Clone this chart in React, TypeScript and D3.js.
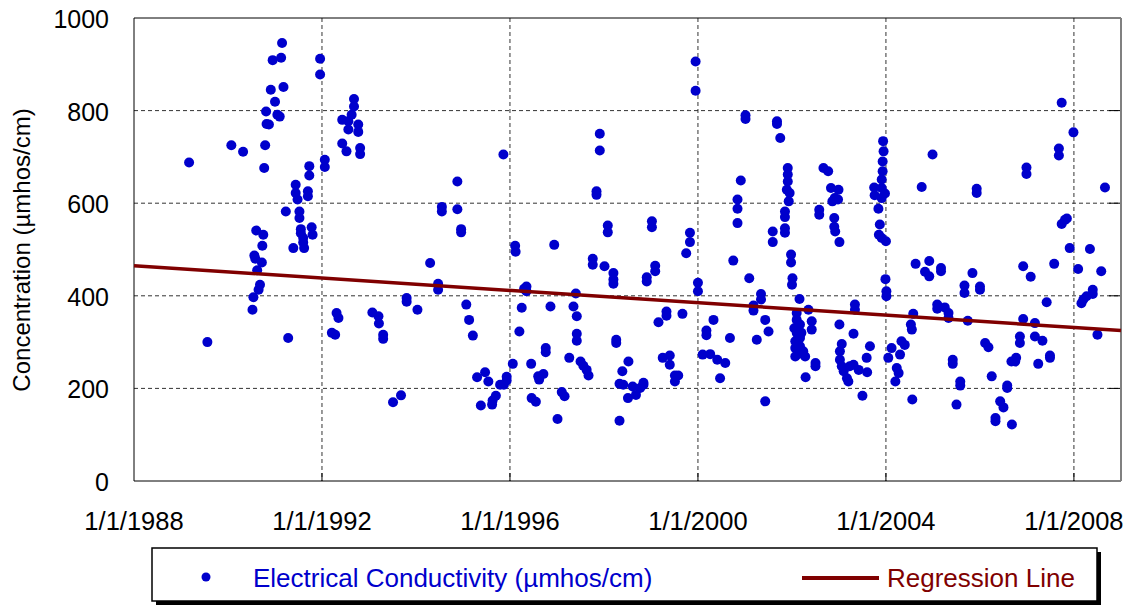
import React from "react";
import * as d3 from "d3";

// [decimal year, EC value (µmhos/cm)]
const ec1989to1992: [number, number][] = [
  [1989.17, 688], [1989.56, 300], [1990.07, 725], [1990.32, 711], [1990.52, 370], [1990.54, 397],
  [1990.56, 487], [1990.58, 480], [1990.60, 541], [1990.62, 455], [1990.65, 413], [1990.68, 424],
  [1990.72, 472], [1990.73, 508], [1990.75, 532], [1990.77, 676], [1990.79, 725], [1990.81, 798],
  [1990.82, 771], [1990.87, 770], [1990.91, 845], [1990.95, 909], [1991.0, 819], [1991.05, 791],
  [1991.1, 787], [1991.13, 914], [1991.15, 946], [1991.18, 851], [1991.23, 582], [1991.28, 309],
  [1991.39, 503], [1991.44, 640], [1991.44, 622], [1991.48, 608], [1991.52, 582], [1991.52, 568],
  [1991.55, 544], [1991.55, 535], [1991.6, 525], [1991.6, 515], [1991.62, 503], [1991.7, 626],
  [1991.7, 615], [1991.73, 680], [1991.73, 660], [1991.78, 548], [1991.8, 532], [1991.96, 912],
  [1991.96, 878], [1992.06, 694], [1992.06, 678],
];

const ec1992to1996: [number, number][] = [
  [1992.21, 320], [1992.28, 316], [1992.31, 363], [1992.35, 352], [1992.43, 780], [1992.43, 729],
  [1992.52, 712], [1992.56, 777], [1992.56, 759], [1992.63, 791], [1992.68, 825], [1992.68, 809],
  [1992.77, 770], [1992.77, 754], [1992.81, 719], [1992.81, 706], [1993.07, 364], [1993.2, 356],
  [1993.21, 340], [1993.3, 316], [1993.3, 307], [1993.51, 170], [1993.68, 185], [1993.8, 395],
  [1993.8, 387], [1994.03, 370], [1994.3, 471], [1994.47, 426], [1994.47, 413], [1994.55, 592],
  [1994.55, 582], [1994.88, 647], [1994.88, 587], [1994.96, 544], [1994.96, 537], [1995.07, 381],
  [1995.13, 348], [1995.21, 314], [1995.3, 224], [1995.38, 163], [1995.47, 235], [1995.54, 215],
  [1995.62, 165], [1995.63, 174], [1995.7, 184], [1995.79, 208], [1995.86, 705], [1995.87, 208],
  [1995.93, 225], [1995.93, 217],
];

const ec1996to2000: [number, number][] = [
  [1996.06, 253], [1996.11, 508], [1996.12, 495], [1996.2, 323], [1996.25, 374], [1996.3, 415],
  [1996.35, 420], [1996.35, 410], [1996.45, 253], [1996.46, 179], [1996.55, 171], [1996.6, 226],
  [1996.62, 219], [1996.71, 231], [1996.76, 287], [1996.76, 278], [1996.86, 377], [1996.94, 510],
  [1997.01, 134], [1997.1, 192], [1997.16, 183], [1997.26, 266], [1997.35, 377], [1997.4, 405],
  [1997.42, 356], [1997.42, 318], [1997.42, 303], [1997.5, 258], [1997.56, 249], [1997.63, 240],
  [1997.67, 228], [1997.76, 480], [1997.76, 467], [1997.84, 626], [1997.84, 618], [1997.91, 750],
  [1997.91, 714], [1998.01, 464], [1998.08, 552], [1998.08, 537], [1998.2, 449], [1998.2, 435],
  [1998.2, 426], [1998.26, 305], [1998.26, 298], [1998.33, 130], [1998.33, 210], [1998.39, 237],
  [1998.41, 208], [1998.51, 179], [1998.52, 258], [1998.61, 204], [1998.68, 186], [1998.77, 201],
  [1998.84, 208], [1998.84, 212], [1998.91, 440], [1998.91, 431], [1999.02, 561], [1999.02, 548],
  [1999.09, 465], [1999.09, 453], [1999.16, 343], [1999.25, 266], [1999.33, 366], [1999.33, 357],
  [1999.4, 271], [1999.4, 251], [1999.51, 228], [1999.51, 215], [1999.58, 228], [1999.67, 361],
  [1999.75, 492], [1999.83, 536], [1999.83, 516], [1999.95, 906], [1999.95, 843],
];

const ec2000to2004: [number, number][] = [
  [2000.0, 428], [2000.0, 410], [2000.1, 273], [2000.18, 325], [2000.18, 315], [2000.26, 274],
  [2000.33, 348], [2000.41, 262], [2000.47, 222], [2000.58, 255], [2000.68, 309], [2000.75, 476],
  [2000.84, 608], [2000.84, 588], [2000.84, 557], [2000.91, 649], [2001.01, 790], [2001.01, 782],
  [2001.09, 438], [2001.18, 379], [2001.18, 368], [2001.25, 305], [2001.34, 404], [2001.34, 392],
  [2001.43, 348], [2001.43, 172], [2001.5, 323], [2001.59, 539], [2001.59, 516], [2001.68, 777],
  [2001.68, 771], [2001.75, 741], [2001.85, 582], [2001.85, 570], [2001.85, 546], [2001.85, 536],
  [2001.89, 629], [2001.91, 676], [2001.91, 662], [2001.91, 647], [2001.93, 604], [2001.95, 622],
  [2001.98, 489], [2001.98, 472], [2002.0, 424], [2002.01, 438], [2002.05, 330], [2002.07, 302],
  [2002.07, 287], [2002.07, 269], [2002.1, 363], [2002.1, 348], [2002.1, 320], [2002.12, 300],
  [2002.12, 285], [2002.14, 275], [2002.16, 393], [2002.17, 338], [2002.17, 309], [2002.17, 291],
  [2002.2, 320], [2002.24, 280], [2002.28, 269], [2002.29, 224], [2002.35, 370], [2002.42, 345],
  [2002.42, 327], [2002.5, 255], [2002.5, 248], [2002.58, 586], [2002.58, 575], [2002.67, 676],
  [2002.77, 669], [2002.83, 633], [2002.86, 604], [2002.9, 568], [2002.9, 549], [2002.91, 611],
  [2002.92, 539], [2002.98, 608], [2002.99, 629], [2003.01, 516], [2003.01, 338], [2003.02, 280],
  [2003.02, 262], [2003.06, 296], [2003.06, 248], [2003.1, 237], [2003.17, 222], [2003.2, 215],
  [2003.23, 248], [2003.31, 251], [2003.31, 318], [2003.34, 381], [2003.34, 370], [2003.42, 240],
  [2003.5, 184], [2003.59, 266], [2003.6, 235], [2003.66, 291], [2003.75, 634], [2003.76, 617],
  [2003.84, 588], [2003.85, 532], [2003.87, 554], [2003.91, 651], [2003.91, 633], [2003.91, 611],
  [2003.91, 525], [2003.93, 690], [2003.93, 669], [2003.94, 734], [2003.95, 712], [2003.98, 621],
  [2004.0, 518], [2003.99, 436],
];

const ec2004to2009: [number, number][] = [
  [2004.01, 410], [2004.01, 399], [2004.05, 266], [2004.12, 287], [2004.2, 215], [2004.23, 244],
  [2004.27, 233], [2004.3, 273], [2004.33, 302], [2004.4, 294], [2004.53, 338], [2004.55, 327],
  [2004.56, 176], [2004.58, 361], [2004.63, 469], [2004.76, 635], [2004.83, 452], [2004.92, 475],
  [2004.92, 442], [2004.99, 705], [2005.09, 381], [2005.09, 372], [2005.17, 460], [2005.17, 453],
  [2005.25, 375], [2005.33, 363], [2005.33, 352], [2005.42, 262], [2005.42, 253], [2005.5, 165],
  [2005.58, 215], [2005.58, 206], [2005.67, 422], [2005.67, 406], [2005.74, 346], [2005.84, 449],
  [2005.93, 631], [2005.93, 622], [2006.0, 420], [2006.0, 413], [2006.11, 298], [2006.18, 289],
  [2006.25, 226], [2006.33, 136], [2006.33, 129], [2006.43, 172], [2006.5, 159], [2006.58, 206],
  [2006.58, 201], [2006.67, 258], [2006.68, 122], [2006.75, 258], [2006.77, 266], [2006.85, 312],
  [2006.85, 298], [2006.92, 464], [2006.92, 350], [2006.99, 677], [2006.99, 663], [2007.08, 441],
  [2007.17, 341], [2007.17, 312], [2007.24, 253], [2007.33, 303], [2007.42, 386], [2007.49, 271],
  [2007.49, 266], [2007.58, 469], [2007.68, 718], [2007.68, 703], [2007.74, 817], [2007.74, 555],
  [2007.81, 564], [2007.85, 567], [2007.91, 503], [2007.99, 753], [2008.09, 458], [2008.16, 384],
  [2008.2, 392], [2008.27, 399], [2008.34, 501], [2008.4, 413], [2008.4, 404], [2008.5, 316],
  [2008.58, 453], [2008.66, 634],
];

const regressionLine: [number, number][] = [
  [1988.0, 465],
  [2009.0, 325],
];

const xTickYears = [1988, 1992, 1996, 2000, 2004, 2008];
const yTicks = [0, 200, 400, 600, 800, 1000];
const yTitle = "Concentration (\u00b5mhos/cm)";
const legendEC = "Electrical Conductivity (\u00b5mhos/cm)";
const legendReg = "Regression Line";

const toDate = (y: number) => {
  const yr = Math.floor(y);
  const s = new Date(yr, 0, 1).getTime();
  const e = new Date(yr + 1, 0, 1).getTime();
  return new Date(s + (y - yr) * (e - s));
};

export default function App() {
  const W = 1130, H = 605;
  const L = 134, R = 1121, T = 18, B = 481;
  const x = d3.scaleTime().domain([new Date(1988, 0, 1), new Date(2009, 0, 1)]).range([L, R]);
  const y = d3.scaleLinear().domain([0, 1000]).range([B, T]);
  const all = [...ec1989to1992, ...ec1992to1996, ...ec1996to2000, ...ec2000to2004, ...ec2004to2009];
  const font = "'Liberation Sans', Arial, sans-serif";
  const blue = "#0000cc";
  const red = "#800000";
  const regPath = d3.line<[number, number]>().x((d) => x(toDate(d[0]))).y((d) => y(d[1]))(regressionLine) || "";

  return (
    <svg width={W} height={H} style={{ position: "absolute", left: 0, top: 0, background: "#fff" }} fontFamily={font}>
      <rect x={0} y={0} width={W} height={H} fill="#fff" />
      {/* grid */}
      {yTicks.filter((t) => t > 0 && t < 1000).map((t) => (
        <line key={"gy" + t} x1={L} x2={R} y1={y(t)} y2={y(t)} stroke="#333" strokeWidth={1} strokeDasharray="4,3" />
      ))}
      {xTickYears.filter((t) => t > 1988).map((t) => (
        <line key={"gx" + t} x1={x(new Date(t, 0, 1))} x2={x(new Date(t, 0, 1))} y1={T} y2={B} stroke="#333" strokeWidth={1} strokeDasharray="4,3" />
      ))}
      {/* inward ticks */}
      {xTickYears.filter((t) => t > 1988).map((t) => (
        <line key={"tx" + t} x1={x(new Date(t, 0, 1))} x2={x(new Date(t, 0, 1))} y1={B} y2={B - 8} stroke="#000" strokeWidth={1} />
      ))}
      {yTicks.filter((t) => t > 0 && t < 1000).map((t) => (
        <line key={"ty" + t} x1={R} x2={R - 12} y1={y(t)} y2={y(t)} stroke="#000" strokeWidth={1} />
      ))}
      {/* frame */}
      <line x1={L} x2={R} y1={T} y2={T} stroke="#000" strokeWidth={1} />
      <line x1={L} x2={R} y1={B} y2={B} stroke="#000" strokeWidth={1} />
      <line x1={L} x2={L} y1={T} y2={B} stroke="#000" strokeWidth={1} />
      <line x1={R} x2={R} y1={T} y2={B} stroke="#808080" strokeWidth={2} />
      {/* points */}
      {all.map((d, i) => (
        <circle key={i} cx={x(toDate(d[0]))} cy={y(d[1])} r={5} fill={blue} />
      ))}
      {/* regression */}
      <path d={regPath} stroke={red} strokeWidth={3.5} fill="none" />
      {/* axis labels */}
      {yTicks.map((t) => (
        <text key={"yl" + t} x={109} y={y(t) + 10} textAnchor="end" fontSize={25} fill="#000">{t}</text>
      ))}
      {xTickYears.map((t) => (
        <text key={"xl" + t} x={x(new Date(t, 0, 1))} y={530} textAnchor="middle" fontSize={25.5} fill="#000">{`1/1/${t}`}</text>
      ))}
      <text transform="translate(30,250) rotate(-90)" textAnchor="middle" fontSize={24} fill="#000">{yTitle}</text>
      {/* legend */}
      <rect x={156} y={552} width={945} height={53} fill="#000" />
      <rect x={152} y={548} width={945} height={53} fill="#fff" stroke="#000" strokeWidth={1.5} />
      <circle cx={206} cy={577} r={4.5} fill={blue} />
      <text x={253} y={587} fontSize={26} fill={blue}>{legendEC}</text>
      <line x1={802} x2={879} y1={578} y2={578} stroke={red} strokeWidth={4} />
      <text x={887} y={587} fontSize={26} fill={red}>{legendReg}</text>
    </svg>
  );
}
